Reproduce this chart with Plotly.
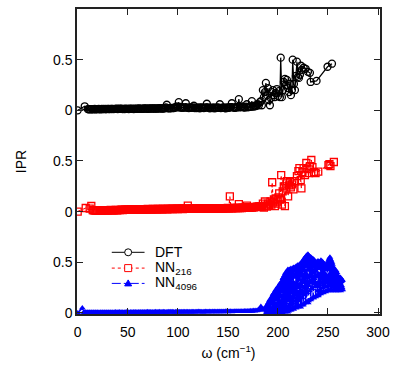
import plotly.graph_objects as go

# ---------------- data ----------------
omega_dft = [0, 7,
             10, 11, 12, 13, 14, 15, 16, 17, 18, 19,
             20, 21, 22, 23, 24, 25, 26, 27, 28, 29,
             30, 31, 32, 33, 34, 35, 36, 37, 38, 39,
             40, 41, 42, 43, 44, 45, 46, 47, 48, 49,
             50, 51, 52, 53, 54, 55, 56, 57, 58, 59,
             60, 61, 62, 63, 64, 65, 66, 67, 68, 69,
             70, 71, 72, 73, 74, 75, 76, 77, 78, 79,
             80, 81, 82, 83, 84, 85, 86, 87, 88, 89,
             90, 91, 92, 93, 94, 95, 96, 97, 98, 99,
             100, 101, 102, 103, 104, 105, 106, 107, 108, 109,
             110, 111, 112, 113, 114, 115, 116, 117, 118, 119,
             120, 121, 122, 123, 124, 125, 126, 127, 128, 129,
             130, 131, 132, 133, 134, 135, 136, 137, 138, 139,
             140, 141, 142, 143, 144, 145, 146, 147, 148, 149,
             150, 151, 152, 153, 154, 155, 156, 157, 158, 159,
             160, 161, 162, 163, 164, 165, 166, 167, 168, 169,
             170, 171, 172, 173, 174, 175, 176, 177, 178, 179,
             180,
             181, 182, 183, 184, 185, 186, 187, 188, 189, 190, 191, 192, 193, 194, 195, 196,
             197, 198, 199, 200, 201, 202, 202.8, 204, 205, 206, 207, 208, 209, 210, 211, 212,
             213, 214, 214.8, 216, 217, 218, 219, 220, 221, 222, 223, 224, 225.7, 227.7, 230,
             232, 232.7, 238.6, 249.6, 254]
ipr_dft = [0.0, 0.04,
           0.012, 0.010, 0.011, 0.009, 0.012, 0.010, 0.011, 0.013, 0.010, 0.012,
           0.011, 0.013, 0.012, 0.010, 0.013, 0.012, 0.014, 0.011, 0.013, 0.012,
           0.014, 0.013, 0.012, 0.015, 0.013, 0.014, 0.012, 0.015, 0.014, 0.016,
           0.013, 0.015, 0.017, 0.014, 0.016, 0.012, 0.015, 0.013, 0.016, 0.014,
           0.015, 0.013, 0.016, 0.014, 0.017, 0.015, 0.013, 0.016, 0.014, 0.017,
           0.015, 0.018, 0.016, 0.014, 0.017, 0.015, 0.018, 0.016, 0.019, 0.017,
           0.015, 0.018, 0.016, 0.019, 0.017, 0.020, 0.018, 0.016, 0.019, 0.017,
           0.020, 0.018, 0.021, 0.019, 0.017, 0.020, 0.018, 0.022, 0.030, 0.055,
           0.020, 0.022, 0.019, 0.023, 0.021, 0.024, 0.022, 0.030, 0.026, 0.040,
           0.032, 0.080, 0.028, 0.035, 0.024, 0.030, 0.026, 0.028, 0.070, 0.030,
           0.025, 0.022, 0.026, 0.030, 0.024, 0.028, 0.045, 0.023, 0.027, 0.022,
           0.025, 0.028, 0.020, 0.026, 0.028, 0.024, 0.022, 0.027, 0.030, 0.065,
           0.028, 0.025, 0.020, 0.027, 0.024, 0.022, 0.028, 0.020, 0.025, 0.026,
           0.030, 0.024, 0.060, 0.022, 0.027, 0.025, 0.029, 0.023, 0.020, 0.027,
           0.028, 0.025, 0.030, 0.032, 0.070, 0.030, 0.027, 0.025, 0.031, 0.028,
           0.035, 0.110, 0.030, 0.032, 0.040, 0.033, 0.030, 0.028, 0.036, 0.060,
           0.030, 0.034, 0.038, 0.035, 0.090, 0.040, 0.036, 0.045, 0.042, 0.050,
           0.060,
           0.05, 0.08, 0.09, 0.05, 0.2, 0.13, 0.18, 0.27, 0.15, 0.22, 0.1, 0.05, 0.12, 0.18,
           0.2, 0.15, 0.13, 0.17, 0.21, 0.14, 0.19, 0.13,
           0.52,
           0.13, 0.2, 0.28, 0.31, 0.25, 0.3, 0.22, 0.18, 0.26, 0.15, 0.2,
           0.5,
           0.26, 0.2, 0.34, 0.48, 0.33, 0.32, 0.35, 0.44, 0.4,
           0.42, 0.41, 0.38, 0.37, 0.28, 0.29, 0.43, 0.46]

omega_nn216 = [0, 8, 12, 13.6,
               15, 16, 17, 18, 19,
               20, 21, 22, 23, 24, 25, 26, 27, 28, 29,
               30, 31, 32, 33, 34, 35, 36, 37, 38, 39,
               40, 41, 42, 43, 44, 45, 46, 47, 48, 49,
               50, 51, 52, 53, 54, 55, 56, 57, 58, 59,
               60, 61, 62, 63, 64, 65, 66, 67, 68, 69,
               70, 71, 72, 73, 74, 75, 76, 77, 78, 79,
               80, 81, 82, 83, 84, 85, 86, 87, 88, 89,
               90, 91, 92, 93, 94, 95, 96, 97, 98, 99,
               100, 101, 102, 103, 104, 105, 106, 107, 108, 109,
               110, 111, 112, 113, 114, 115, 116, 117, 118, 119,
               120, 121, 122, 123, 124, 125, 126, 127, 128, 129,
               130, 131, 132, 133, 134, 135, 136, 137, 138, 139,
               140, 141, 142, 143, 144, 145, 146, 147, 148, 149,
               150, 151, 152, 153, 154, 155, 156, 157, 158, 159,
               160, 161, 162, 163, 164, 165, 166, 167, 168, 169,
               170, 171, 172, 173, 174, 175, 176, 177, 178, 179,
               180, 181, 182, 183,
               184, 185, 186, 187, 188, 189, 190, 191,
               192.6, 193.5, 194.3, 195.2, 196, 197, 197.8, 198.5, 199.5, 200.5,
               201.3, 202.2, 203.3, 204, 204.8, 205.9, 207, 207.8, 208.5, 209,
               210.2, 211, 212, 213, 214, 215.5, 217, 219, 220.5, 221.5,
               222.8, 223.5, 224.5, 225.7, 227, 228.4, 229.5, 231, 232, 233.4,
               234.5, 236, 237.6, 240.3, 250.5, 251.5, 252.5, 255.9]
ipr_nn216 = [0.0, 0.036, 0.03, 0.056,
             0.015, 0.012, 0.014, 0.011, 0.013,
             0.015, 0.012, 0.014, 0.013, 0.012, 0.015, 0.013, 0.014, 0.012, 0.016,
             0.014, 0.013, 0.015, 0.017, 0.014, 0.016, 0.013, 0.015, 0.017, 0.014,
             0.016, 0.018, 0.015, 0.017, 0.019, 0.016, 0.018, 0.020, 0.017, 0.019,
             0.021, 0.018, 0.020, 0.022, 0.019, 0.021, 0.023, 0.020, 0.022, 0.024,
             0.021, 0.023, 0.020, 0.022, 0.024, 0.021, 0.023, 0.025, 0.022, 0.024,
             0.026, 0.023, 0.025, 0.022, 0.024, 0.026, 0.023, 0.025, 0.027, 0.024,
             0.026, 0.023, 0.025, 0.027, 0.024, 0.026, 0.028, 0.025, 0.027, 0.024,
             0.026, 0.028, 0.025, 0.027, 0.029, 0.026, 0.028, 0.025, 0.027, 0.029,
             0.026, 0.028, 0.030, 0.027, 0.029, 0.026, 0.028, 0.030, 0.027, 0.029,
             0.060, 0.028, 0.030, 0.027, 0.029, 0.031, 0.028, 0.030, 0.032, 0.029,
             0.031, 0.028, 0.030, 0.032, 0.029, 0.031, 0.033, 0.030, 0.032, 0.029,
             0.031, 0.033, 0.030, 0.032, 0.034, 0.031, 0.033, 0.030, 0.032, 0.034,
             0.031, 0.033, 0.035, 0.032, 0.034, 0.031, 0.033, 0.035, 0.032, 0.034,
             0.036, 0.033, 0.150, 0.035, 0.032, 0.036, 0.034, 0.037, 0.035, 0.038,
             0.036, 0.075, 0.035, 0.038, 0.036, 0.040, 0.037, 0.039, 0.041, 0.060,
             0.038, 0.042, 0.040, 0.044, 0.041, 0.045, 0.043, 0.047, 0.045, 0.050,
             0.048, 0.052, 0.050, 0.055,
             0.05, 0.08, 0.04, 0.10, 0.06, 0.05, 0.08, 0.06,
             0.10, 0.07, 0.29, 0.09, 0.12, 0.055, 0.13, 0.08, 0.1, 0.14,
             0.18, 0.12, 0.36, 0.07, 0.2, 0.25, 0.055, 0.23, 0.28, 0.30,
             0.15, 0.26, 0.29, 0.24, 0.27, 0.22, 0.3, 0.35, 0.4, 0.43,
             0.31, 0.23, 0.39, 0.43, 0.36, 0.48, 0.42, 0.38, 0.45, 0.51,
             0.44, 0.39, 0.38, 0.395, 0.46, 0.47, 0.45, 0.49]

omega_nn4096 = [0, 4.6,
                6, 7, 8, 9,
                10, 11, 12, 13, 14, 15, 16, 17, 18, 19,
                20, 21, 22, 23, 24, 25, 26, 27, 28, 29,
                30, 31, 32, 33, 34, 35, 36, 37, 38, 39,
                40, 41, 42, 43, 44, 45, 46, 47, 48, 49,
                50, 51, 52, 53, 54, 55, 56, 57, 58, 59,
                60, 61, 62, 63, 64, 65, 66, 67, 68, 69,
                70, 71, 72, 73, 74, 75, 76, 77, 78, 79,
                80, 81, 82, 83, 84, 85, 86, 87, 88, 89,
                90, 91, 92, 93, 94, 95, 96, 97, 98, 99,
                100, 101, 102, 103, 104, 105, 106, 107, 108, 109,
                110, 111, 112, 113, 114, 115, 116, 117, 118, 119,
                120, 121, 122, 123, 124, 125, 126, 127, 128, 129,
                130, 131, 132, 133, 134, 135, 136, 137, 138, 139,
                140, 141, 142, 143, 144, 145, 146, 147, 148, 149,
                150, 151, 152, 153, 154, 155, 156, 157, 158, 159,
                160, 161, 162, 163, 164, 165, 166, 167, 168, 169,
                170, 171, 172, 173, 174, 175, 176, 177, 178, 179,
                180, 181, 182, 183, 184, 185, 186, 187,
                188.0, 188.25, 188.5, 188.75, 189.0, 189.25, 189.5, 189.75, 190.0, 190.25,
                190.5, 190.75, 191.0, 191.25, 191.5, 191.75, 192.0, 192.25, 192.5, 192.75,
                193.0, 193.25, 193.5, 193.75, 194.0, 194.25, 194.5, 194.75, 195.0, 195.25,
                195.5, 195.75, 196.0, 196.25, 196.5, 196.75, 197.0, 197.25, 197.5, 197.75,
                198.0, 198.25, 198.5, 198.75, 199.0, 199.25, 199.5, 199.75, 200.0, 200.25,
                200.5, 200.75, 201.0, 201.25, 201.5, 201.75, 202.0, 202.25, 202.5, 202.75,
                203.0, 203.25, 203.5, 203.75, 204.0, 204.25, 204.5, 204.75, 205.0, 205.25,
                205.5, 205.75, 206.0, 206.25, 206.5, 206.75, 207.0, 207.25, 207.5, 207.75,
                208.0, 208.25, 208.5, 208.75, 209.0, 209.25, 209.5, 209.75, 210.0, 210.25,
                210.5, 210.75, 211.0, 211.25, 211.5, 211.75, 212.0, 212.25, 212.5, 212.75,
                213.0, 213.25, 213.5, 213.75, 214.0, 214.25, 214.5, 214.75, 215.0, 215.25,
                215.5, 215.75, 216.0, 216.25, 216.5, 216.75, 217.0, 217.25, 217.5, 217.75,
                218.0, 218.25, 218.5, 218.75, 219.0, 219.25, 219.5, 219.75, 220.0, 220.25,
                220.5, 220.75, 221.0, 221.25, 221.5, 221.75, 222.0, 222.25, 222.5, 222.75,
                223.0, 223.25, 223.5, 223.75, 224.0, 224.25, 224.5, 224.75, 225.0, 225.25,
                225.5, 225.75, 226.0, 226.25, 226.5, 226.75, 227.0, 227.25, 227.5, 227.75,
                228.0, 228.25, 228.5, 228.75, 229.0, 229.25, 229.5, 229.75, 230.0, 230.25,
                230.5, 230.75, 231.0, 231.25, 231.5, 231.75, 232.0, 232.25, 232.5, 232.75,
                233.0, 233.25, 233.5, 233.75, 234.0, 234.25, 234.5, 234.75, 235.0, 235.25,
                235.5, 235.75, 236.0, 236.25, 236.5, 236.75, 237.0, 237.25, 237.5, 237.75,
                238.0, 238.25, 238.5, 238.75, 239.0, 239.25, 239.5, 239.75, 240.0, 240.25,
                240.5, 240.75, 241.0, 241.25, 241.5, 241.75, 242.0, 242.25, 242.5, 242.75,
                243.0, 243.25, 243.5, 243.75, 244.0, 244.25, 244.5, 244.75, 245.0, 245.25,
                245.5, 245.75, 246.0, 246.25, 246.5, 246.75, 247.0, 247.25, 247.5, 247.75,
                248.0, 248.25, 248.5, 248.75, 249.0, 249.25, 249.5, 249.75, 250.0, 250.25,
                250.5, 250.75, 251.0, 251.25, 251.5, 251.75, 252.0, 252.25, 252.5, 252.75,
                253.0, 253.25, 253.5, 253.75, 254.0, 254.25, 254.5, 254.75, 255.0, 255.25,
                255.5, 255.75, 256.0, 256.25, 256.5, 256.75, 257.0, 257.25, 257.5, 257.75,
                258.0, 258.25, 258.5, 258.75, 259.0, 259.25, 259.5, 259.75, 260.0, 260.25,
                260.5, 260.75, 261.0, 261.25, 261.5, 261.75, 262.0, 262.25, 262.5, 262.75,
                263.0, 263.25, 263.5, 263.75, 264.0, 264.25, 264.5, 264.75]
ipr_nn4096 = [0.0, 0.05,
              0.008, 0.006, 0.007, 0.005,
              0.007, 0.006, 0.008, 0.005, 0.007, 0.006, 0.007, 0.005, 0.008, 0.006,
              0.007, 0.005, 0.006, 0.008, 0.006, 0.007, 0.005, 0.007, 0.006, 0.008,
              0.006, 0.007, 0.005, 0.007, 0.006, 0.008, 0.006, 0.007, 0.009, 0.006,
              0.008, 0.007, 0.009, 0.006, 0.008, 0.007, 0.006, 0.008, 0.007, 0.009,
              0.007, 0.008, 0.006, 0.009, 0.007, 0.008, 0.010, 0.007, 0.009, 0.008,
              0.007, 0.009, 0.008, 0.010, 0.007, 0.009, 0.008, 0.010, 0.008, 0.009,
              0.011, 0.008, 0.010, 0.009, 0.007, 0.010, 0.008, 0.009, 0.011, 0.008,
              0.010, 0.009, 0.011, 0.008, 0.010, 0.009, 0.011, 0.010, 0.008, 0.010,
              0.009, 0.011, 0.010, 0.012, 0.009, 0.011, 0.010, 0.008, 0.011, 0.010,
              0.012, 0.009, 0.011, 0.010, 0.012, 0.010, 0.011, 0.013, 0.010, 0.012,
              0.011, 0.009, 0.012, 0.010, 0.013, 0.011, 0.012, 0.010, 0.013, 0.011,
              0.012, 0.014, 0.011, 0.013, 0.012, 0.010, 0.013, 0.011, 0.014, 0.012,
              0.013, 0.011, 0.014, 0.012, 0.013, 0.015, 0.012, 0.014, 0.013, 0.011,
              0.014, 0.012, 0.015, 0.013, 0.014, 0.012, 0.015, 0.013, 0.016, 0.014,
              0.013, 0.015, 0.014, 0.016, 0.013, 0.015, 0.014, 0.017, 0.015, 0.016,
              0.014, 0.017, 0.015, 0.018, 0.016, 0.014, 0.017, 0.019, 0.016, 0.018,
              0.020, 0.017, 0.019, 0.022, 0.018, 0.021, 0.024, 0.020, 0.025, 0.023,
              0.028, 0.030, 0.040, 0.065, 0.035, 0.030, 0.040, 0.030,
              0.05, 0.00, 0.07, 0.02, 0.04, 0.01, 0.08, 0.03, 0.09, 0.00,
              0.10, 0.02, 0.07, 0.00, 0.12, 0.04, 0.13, 0.01, 0.09, 0.03,
              0.14, 0.02, 0.10, 0.00, 0.16, 0.05, 0.12, 0.01, 0.18, 0.03,
              0.19, 0.04, 0.14, 0.01, 0.20, 0.07, 0.16, 0.00, 0.22, 0.05,
              0.23, 0.02, 0.18, 0.06, 0.24, 0.01, 0.20, 0.09, 0.26, 0.03,
              0.26, 0.05, 0.21, 0.00, 0.27, 0.10, 0.23, 0.02, 0.29, 0.07,
              0.30, 0.01, 0.25, 0.12, 0.31, 0.04, 0.28, 0.00, 0.34, 0.08,
              0.35, 0.02, 0.29, 0.14, 0.37, 0.05, 0.32, 0.01, 0.39, 0.10,
              0.40, 0.03, 0.34, 0.16, 0.41, 0.06, 0.37, 0.01, 0.43, 0.12,
              0.42, 0.02, 0.36, 0.18, 0.43, 0.08, 0.38, 0.03, 0.41, 0.14,
              0.44, 0.03, 0.35, 0.20, 0.43, 0.05, 0.39, 0.10, 0.44, 0.04,
              0.45, 0.04, 0.38, 0.15, 0.42, 0.22, 0.45, 0.06, 0.36, 0.12,
              0.46, 0.05, 0.40, 0.25, 0.44, 0.09, 0.47, 0.18, 0.38, 0.06,
              0.47, 0.07, 0.42, 0.28, 0.45, 0.12, 0.48, 0.20, 0.40, 0.06,
              0.49, 0.08, 0.44, 0.30, 0.50, 0.15, 0.51, 0.22, 0.42, 0.08,
              0.52, 0.09, 0.46, 0.33, 0.54, 0.18, 0.50, 0.26, 0.55, 0.10,
              0.56, 0.11, 0.48, 0.35, 0.57, 0.20, 0.52, 0.28, 0.58, 0.10,
              0.57, 0.12, 0.50, 0.30, 0.56, 0.22, 0.54, 0.38, 0.55, 0.13,
              0.55, 0.14, 0.48, 0.32, 0.54, 0.24, 0.50, 0.40, 0.53, 0.15,
              0.53, 0.15, 0.46, 0.34, 0.52, 0.26, 0.49, 0.42, 0.50, 0.16,
              0.50, 0.17, 0.44, 0.36, 0.49, 0.27, 0.51, 0.22, 0.45, 0.17,
              0.51, 0.18, 0.46, 0.38, 0.50, 0.28, 0.48, 0.23, 0.50, 0.19,
              0.52, 0.20, 0.47, 0.36, 0.51, 0.30, 0.49, 0.25, 0.50, 0.20,
              0.49, 0.21, 0.44, 0.37, 0.48, 0.30, 0.46, 0.26, 0.47, 0.21,
              0.47, 0.22, 0.43, 0.35, 0.46, 0.31, 0.48, 0.27, 0.50, 0.22,
              0.52, 0.23, 0.45, 0.38, 0.54, 0.32, 0.55, 0.28, 0.53, 0.22,
              0.52, 0.23, 0.47, 0.36, 0.50, 0.30, 0.48, 0.26, 0.46, 0.22,
              0.44, 0.23, 0.40, 0.33, 0.42, 0.28, 0.43, 0.25, 0.41, 0.22,
              0.42, 0.23, 0.38, 0.31, 0.40, 0.27, 0.37, 0.24, 0.36, 0.22,
              0.36, 0.23, 0.33, 0.29, 0.35, 0.26, 0.34, 0.24, 0.35, 0.22,
              0.33, 0.23, 0.31, 0.27, 0.33, 0.25, 0.32, 0.23]

x_ticks = [0, 50, 100, 150, 200, 250, 300]
y_ticks = [0, 0.5]
y_tick_labels = ["0", "0.5"]
legend_names = ["DFT", "NN<sub>216</sub>", "NN<sub>4096</sub>"]

assert len(omega_dft) == len(ipr_dft)
assert len(omega_nn216) == len(ipr_nn216)
assert len(omega_nn4096) == len(ipr_nn4096)

# ---------------- figure ----------------
FONT = "Liberation Sans, Arial, sans-serif"
fig = go.Figure()

fig.add_trace(go.Scatter(
    x=omega_dft, y=ipr_dft, name=legend_names[0], yaxis="y3", mode="lines+markers",
    showlegend=False,
    line=dict(color="black", width=1.2),
    marker=dict(symbol="circle-open", size=7, color="black", line=dict(width=1.3))))
fig.add_trace(go.Scatter(
    x=omega_nn216, y=ipr_nn216, name=legend_names[1], yaxis="y2", mode="lines+markers",
    showlegend=False,
    line=dict(color="red", width=1.2, dash="dot"),
    marker=dict(symbol="square-open", size=7, color="red", line=dict(width=1.3))))
fig.add_trace(go.Scatter(
    x=omega_nn4096, y=ipr_nn4096, name=legend_names[2], yaxis="y", mode="lines+markers",
    showlegend=False,
    line=dict(color="blue", width=1.6, dash="dashdot"),
    marker=dict(symbol="triangle-up", size=6, color="blue")))

axis_common = dict(
    showgrid=False, zeroline=False, showline=True, linecolor="#222", linewidth=1.5,
    ticks="inside", ticklen=6, tickcolor="#222", tickwidth=1, mirror="ticks",
    tickfont=dict(family=FONT, size=14, color="black"))

# ---- hand-built key (compact row spacing like the original) ----
L_PX, R_PX, T_PX, B_PX = 77, 382, 7, 316
def px_x(p):
    return (p - L_PX) / (R_PX - L_PX)
def px_y(p):
    return (B_PX - p) / (B_PX - T_PX)

rows = [253.5, 269.5, 285.0]
styles = [dict(color="black", dash="solid"), dict(color="red", dash="dot"),
          dict(color="blue", dash="dashdot")]
shapes = []
annotations = []
mx = px_x(128.5)
for i, (row, st) in enumerate(zip(rows, styles)):
    yy = px_y(row)
    shapes.append(dict(type="line", xref="paper", yref="paper",
                       x0=px_x(112), x1=px_x(145), y0=yy, y1=yy,
                       line=dict(color=st["color"], width=1, dash=st["dash"])))
    annotations.append(dict(text=legend_names[i], xref="paper", yref="paper",
                            x=px_x(153), y=yy, xanchor="left", yanchor="middle",
                            showarrow=False, font=dict(family=FONT, size=14, color="black")))
# key symbols
shapes.append(dict(type="circle", xref="paper", yref="paper", xsizemode="pixel", ysizemode="pixel",
                   xanchor=mx, yanchor=px_y(rows[0]), x0=-3.5, x1=3.5, y0=-3.5, y1=3.5,
                   line=dict(color="black", width=1), fillcolor="white"))
shapes.append(dict(type="rect", xref="paper", yref="paper", xsizemode="pixel", ysizemode="pixel",
                   xanchor=mx, yanchor=px_y(rows[1]), x0=-3.5, x1=3.5, y0=-3.5, y1=3.5,
                   line=dict(color="red", width=1), fillcolor="white"))
shapes.append(dict(type="path", xref="paper", yref="paper", xsizemode="pixel", ysizemode="pixel",
                   xanchor=mx, yanchor=px_y(rows[2]),
                   path="M -3.5,-2.5 L 3.5,-2.5 L 0,3.5 Z",
                   line=dict(color="blue", width=1), fillcolor="blue"))

fig.update_layout(
    width=397, height=366,
    margin=dict(l=L_PX, r=397 - R_PX, t=T_PX, b=366 - B_PX),
    paper_bgcolor="white", plot_bgcolor="white",
    font=dict(family=FONT, size=14, color="black"),
    xaxis=dict(range=[-0.7, 302], tickvals=x_ticks, ticklabelstandoff=4, **axis_common,
               title=dict(text="ω (cm<sup>−1</sup>)", font=dict(family=FONT, size=14), standoff=10)),
    yaxis=dict(range=[-0.01, 3.0], tickvals=y_ticks, ticktext=y_tick_labels, **axis_common,
               title=dict(text="IPR", font=dict(family=FONT, size=14), standoff=23)),
    yaxis2=dict(range=[-1.01, 2.0], tickvals=y_ticks, ticktext=y_tick_labels,
                overlaying="y", side="left", **axis_common),
    yaxis3=dict(range=[-2.01, 1.0], tickvals=y_ticks, ticktext=y_tick_labels,
                overlaying="y", side="left", **axis_common),
    shapes=shapes,
    annotations=annotations,
    showlegend=False,
)

fig.write_html("out.html")
